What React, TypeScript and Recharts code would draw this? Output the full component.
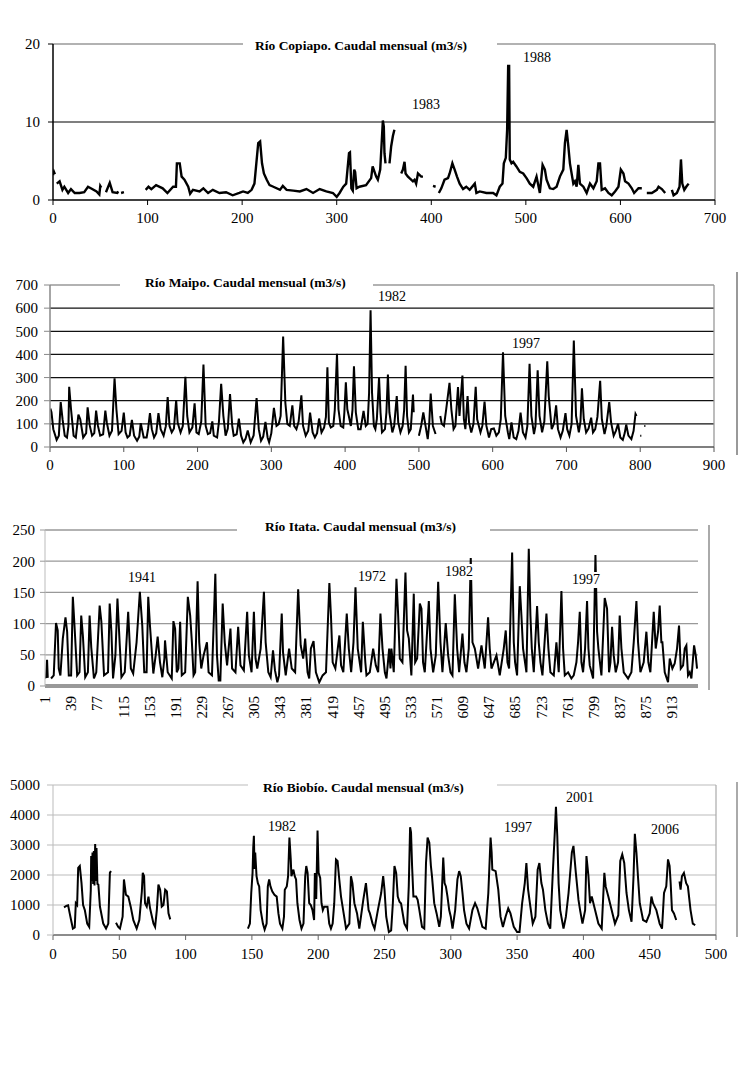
import React from 'react';
import { LineChart, Line, XAxis, YAxis, ReferenceLine } from 'recharts';

type Pt = [number, number | null];

const FONT = '"Liberation Serif", "Times New Roman", serif';

// ---------- Río Copiapó (m3/s) ----------
const copiapoXTicks = [0, 100, 200, 300, 400, 500, 600, 700];
const copiapoYTicks = [0, 10, 20];
const copiapoFlow: Pt[] = [
  [0, 3.2], [1, 3.6], [2, 3.3], [3, null],
  [4, 2.1], [7, 2.4], [10, 1.3], [12, 1.7], [16, 0.9], [19, 1.4], [23, 0.9], [28, 0.9], [33, 1.0], [37, 1.7], [40, 1.5], [46, 1.1], [49, 0.7], [50, 1.8], [51, 1.6], [53, null],
  [56, 1.0], [60, 2.2], [63, 1.0], [68, 0.9], [69, 1.1], [70.5, null], [72, 0.9], [75, 1.0], [80, null],
  [98, 1.3], [101, 1.7], [104, 1.4], [109, 1.9], [116, 1.5], [121, 0.9], [127, 1.7], [130, 1.7], [131, 4.7], [134, 4.7], [136, 3.0], [139, 2.6], [143, 1.7], [145, 0.8], [148, 1.3], [155, 1.1], [159, 1.5], [164, 0.9], [169, 1.3], [176, 0.9], [183, 1.0], [190, 0.6], [197, 0.9], [201, 1.1], [206, 0.9], [210, 1.3], [213, 2.1], [215, 4.7], [217, 7.3], [219, 7.5], [221, 4.7], [223, 3.4], [226, 2.6], [229, 1.9], [233, 1.7], [240, 1.3], [243, 1.8], [247, 1.3], [254, 1.2], [261, 1.1], [268, 1.4], [275, 0.9], [282, 1.4], [289, 1.1], [296, 0.9], [300, 0.4], [303, 0.9], [307, 1.7], [310, 2.1], [313, 6.0], [314, 6.1], [315.5, 1.5], [317, 1.2], [318.5, 3.9], [319.5, 3.6], [321, 1.5],
  [324, 1.7], [331, 1.9], [336.4, 2.8], [338, 4.3], [340, 3.6], [341.7, 3.0], [343.5, 2.6], [346, 3.9], [347.7, 7.7], [348.8, 10.2], [349.8, 9.4], [350.5, 6.0], [351.6, 4.7], [353, null],
  [355.8, 4.7], [357.6, 6.9], [359.4, 8.2], [361, 9.0], [364, null],
  [368.2, 3.4], [370, 3.9], [371.7, 4.9], [372.8, 3.4], [375.3, 3.0], [377, 2.8], [380.6, 2.4], [382.3, 2.6], [384, 2.1], [385.9, 3.4], [389.4, 3.0], [391.2, 3.0], [395, null],
  [401.8, 1.8], [404.6, 1.7], [406, null],
  [408, 0.9], [410.6, 1.5], [414, 2.6], [417.7, 2.8], [419.4, 3.4], [422.3, 4.7], [424.7, 3.9], [427.2, 3.0], [430, 2.1], [433.6, 1.4], [437, 1.7], [440.6, 1.3], [446, 2.1], [447.7, 0.9], [451.2, 1.1], [458.3, 0.9], [465.4, 0.9], [468.9, 0.6], [472.4, 1.7], [475.3, 2.1], [476.7, 4.7], [478.8, 5.4], [480.2, 9.0], [481.3, 17.2], [482.3, 17.2], [483, 5.2], [484.8, 4.7], [486.6, 4.9], [490, 4.3], [493.6, 3.6], [497.2, 3.4], [500.7, 2.8], [504.2, 2.1], [507.8, 1.7], [511.3, 3.0], [514.8, 0.9], [517.7, 4.5], [520.1, 3.9], [521.9, 2.6], [525.4, 1.5], [529, 1.4], [532.5, 1.7], [536, 3.0], [539.6, 3.9], [541.3, 7.3], [543.1, 9.0], [544.9, 6.9], [546.6, 4.7], [550.2, 2.1], [551.9, 2.4], [553.7, 1.7], [555.5, 4.5], [557.2, 2.1], [560.8, 1.7], [564.3, 0.9], [567.8, 2.1], [571.4, 1.5], [574.9, 2.4], [576.7, 4.7], [578.4, 4.7], [580.2, 1.3], [583.7, 1.5], [587.3, 0.9], [590.8, 0.6], [594.3, 1.1], [597.9, 1.7], [600.4, 3.9], [603.2, 3.4], [604.9, 2.4], [608.5, 2.1], [612, 1.5], [614.5, 0.9], [619.1, 1.5], [622.6, 1.5], [625, null],
  [627.9, 0.9], [633.2, 0.9], [638.5, 1.3], [640.3, 1.7], [643.8, 1.4], [647.3, 0.9], [650, null],
  [654.4, 1.3], [656.2, 0.6], [659.7, 0.9], [662.5, 1.7], [664, 5.2], [665.4, 2.1], [667.5, 1.3], [669.6, 1.7], [672.1, 2.1],
];

// ---------- Río Maipo (m3/s) ----------
const maipoXTicks = [0, 100, 200, 300, 400, 500, 600, 700, 800, 900];
const maipoYTicks = [0, 100, 200, 300, 400, 500, 600, 700];
const maipoFlow: Pt[] = [
  [0.5, 166], [2, 150], [4.5, 77], [9, 31], [12, 49], [14.5, 194], [17, 120], [20, 49], [23, 41], [25, 91], [26, 260], [28.5, 163], [32, 49], [35, 41], [38.5, 140], [41, 120], [45, 41], [49, 60], [51, 171], [54, 91], [57, 49], [60, 60], [62.5, 157], [65, 91], [68, 49], [72, 55], [75, 157], [77, 106], [80.6, 49], [84, 70], [87.5, 297], [90, 163], [93, 56], [97, 70], [100, 149], [102.5, 63], [105, 41], [108, 50], [111, 117], [114, 49], [118, 27], [121, 45], [123, 103], [127, 41], [131, 41], [133, 80], [135.5, 146], [138, 77], [141, 41], [144, 60], [147, 146], [150, 77], [154, 49], [157, 90], [159.5, 216], [162, 91], [165, 63], [168, 80], [171, 203], [173, 106], [177, 63], [180, 90], [183.5, 303], [186, 134], [189, 63], [193, 85], [196, 189], [198.5, 63], [201.6, 56], [205, 110], [208, 356], [211, 91], [214, 56], [217, 60], [220, 111], [222, 49], [226.5, 41], [229, 110], [232, 273], [235, 134], [238, 49], [241, 80], [244, 229], [247, 91], [249, 49], [253, 55], [256, 123], [259, 49], [262, 20], [265, 35], [268, 71], [272, 20], [276, 50], [280, 211], [283, 77], [286, 27], [289, 45], [292, 109], [295, 40], [297, 20], [300, 60], [303.5, 169], [307, 91], [310, 99], [312.6, 134], [316, 477], [319, 191], [321.7, 99], [325, 91], [328.5, 180], [331, 91], [334, 77], [337, 110], [340.7, 223], [343, 91], [346.6, 49], [350, 70], [352.5, 149], [356, 63], [359, 41], [362, 60], [364.7, 123], [368, 63], [371.5, 84], [374, 130], [376, 344], [378, 106], [380.6, 84], [384, 91], [386, 160], [389, 403], [391, 163], [394, 91], [397.5, 84], [399, 150], [401, 280], [403, 163], [405, 134], [407.8, 91], [410, 160], [412, 349], [414.5, 150], [417.8, 77], [421, 77], [425, 156], [428, 91], [430.5, 100], [432.5, 234], [434.5, 591], [436.5, 234], [439, 91], [441, 77], [443, 120], [446, 299], [448, 149], [450, 63], [454, 77], [456, 150], [458, 313], [460, 149], [464, 63], [466.5, 91], [470, 220], [472, 106], [475, 63], [478, 91], [480, 160], [482, 351], [484, 134], [486.5, 63], [489, 77], [492, 227], [493, 150], [495, null],
  [500, 49], [503, 91], [506, 149], [509, 91], [512, 34], [514, 100], [516, 231], [519, 91], [522.6, 56], [525, null],
  [529, 134], [531, 100], [534, 91], [537, 163], [541.5, 277], [544, 163], [547, 77], [549.5, 91], [553, 259], [555, 134], [559, 309], [561, 120], [563, 77], [566, 220], [568, 106], [571, 63], [574, 100], [577, 260], [579, 120], [583.5, 63], [586, 91], [589, 196], [591.5, 91], [595, 41], [598, 77], [601.6, 80], [605, 49], [608.4, 63], [611, 120], [614, 409], [617, 134], [620.6, 63], [622.5, 34], [625.5, 106], [628.5, 41], [632, 34], [635, 70], [637.8, 149], [641, 63], [644.5, 41], [647, 90], [650, 360], [652.5, 134], [656, 56], [658, 90], [661, 331], [663.5, 134], [667, 63], [670, 110], [674, 370], [676, 220], [680, 77], [683, 100], [686, 180], [688.5, 77], [692, 41], [695, 70], [698.7, 146], [701, 77], [704, 49], [707, 100], [710, 460], [713, 134], [716.8, 63], [719, 110], [721, 254], [723.5, 120], [726.7, 63], [730, 80], [733.5, 127], [736, 63], [739, 77], [742, 130], [745.7, 286], [748, 120], [751.6, 56], [754, 90], [758, 194], [760.5, 106], [764, 49], [767, 70], [770, 100], [773, 41], [776.4, 31], [779, 60], [781, 97], [784, 49], [788, 34], [791, 70], [793.6, 143], [795, 134], [797, null],
  [800, 49], [801.5, 49], [803, null], [805.5, 91], [807, 91],
];

// ---------- Río Itata (m3/s) ----------
const itataXTicks = [1, 39, 77, 115, 153, 191, 229, 267, 305, 343, 381, 419, 457, 495, 533, 571, 609, 647, 685, 723, 761, 799, 837, 875, 913];
const itataYTicks = [0, 50, 100, 150, 200, 250];
const itataFlow: Pt[] = [
  [1, 13], [2.5, 14], [4, 42], [5, 13], [7, null],
  [9.8, 12], [13.7, 17], [17, 101], [19.5, 89], [21, 28], [23.4, 17], [26.9, 76], [30.8, 110], [33.2, 87], [35.6, 17], [39, 17], [41.5, 143], [43.9, 97], [47.8, 17], [51.2, 22], [53.7, 113], [56.1, 81], [59.5, 14], [63.4, 22], [65.9, 113], [68.3, 62], [72.2, 12], [75.6, 22], [80.5, 129], [83, 103], [86.9, 17], [92.7, 22], [95.1, 132], [97.6, 87], [100, 12], [103.4, 49], [106.4, 140], [109.8, 65], [112.2, 14], [117, 22], [119.5, 70], [122, 119], [125.9, 28], [129.3, 20], [134.2, 70], [139, 151], [142.5, 97], [145.4, 22], [148.8, 22], [151.2, 143], [153.7, 97], [158.6, 20], [162, 49], [164.9, 79], [168.3, 38], [171.7, 14], [174.7, 44], [175.6, 73], [179.5, 22], [185.4, 12], [187.8, 104], [190.3, 92], [192.7, 22], [195.1, 28], [197.6, 103], [200, 17], [204.9, 22], [208.8, 143], [212.2, 113], [214.7, 70], [217.1, 17], [219.5, 22], [223, 168], [225.4, 70], [228.3, 28], [231.7, 49], [236.6, 70], [239, 22], [243.9, 17], [248.8, 180], [251.2, 49], [253.7, 9], [256.1, 9], [259.5, 132], [262.5, 70], [265.9, 33], [270.8, 92], [273.2, 28], [278.1, 22], [282, 95], [285.4, 33], [290.3, 25], [295.1, 119], [297.6, 49], [301.5, 22], [304.9, 119], [307.3, 44], [309.8, 28], [314.7, 60], [319.5, 151], [322, 70], [325.9, 22], [329.3, 14], [332.7, 57], [335.6, 25], [339, 6], [341.5, 17], [345.4, 116], [347.3, 54], [351.2, 17], [356.1, 60], [360, 28], [364.9, 22], [369.3, 155], [373, 65], [376.6, 44], [379.5, 76], [383, 22], [385.4, 12], [387.8, 60], [391.7, 72], [395.1, 22], [400, 6], [404.9, 17], [409.8, 22], [414.7, 165], [417, 113], [419.5, 38], [423.4, 28], [426.9, 60], [429.3, 81], [431.7, 33], [435, 22], [440, 116], [443, 60], [446.4, 22], [449.8, 70], [452.7, 158], [456, 60], [460.9, 22], [463.4, 103], [467, 38],
  [468.7, 17], [473.5, 22], [478.4, 60], [482.3, 33], [485.7, 22], [489, 116], [492, 60], [495.4, 22], [497.8, 12], [501.7, 60], [503.6, 28], [505, 60], [508.4, 22], [512.3, 172], [514.8, 113], [517.2, 44], [521, 38], [525.4, 182], [527.8, 89], [530.3, 76], [534, 17], [537.5, 148], [539.5, 38], [542.4, 44], [546.3, 132], [548.7, 124], [551, 38], [553.5, 22], [559.4, 136], [561.8, 60], [565.7, 22], [569.5, 49], [573, 167], [576.3, 70], [579.2, 22], [584, 101], [587.5, 49], [590.9, 22], [593.8, 17], [597.2, 147], [600.6, 60], [603.5, 22], [608.3, 84], [611.2, 38], [614.1, 22], [617.5, 60], [620.4, 205], [622.9, 70], [626.3, 60], [631.1, 28], [636, 65], [640.8, 28], [645.6, 110], [648, 60], [650.5, 28], [657.8, 49], [662.6, 17], [668.4, 60], [671.3, 89], [673.8, 38], [676.2, 28], [680.6, 214], [683, 70], [684.9, 38], [687.8, 17], [691.7, 160], [694.1, 113], [696.5, 60], [701.4, 22], [704.8, 220], [707.2, 113], [709.2, 60], [712.1, 22], [716.9, 128], [719.3, 70], [721.8, 38], [724.7, 17], [730.5, 116], [733.4, 60], [736.3, 22], [741.2, 17], [745, 70], [748.4, 22], [752.3, 152], [754.7, 60], [757.2, 17], [762, 22], [766.8, 12], [770.2, 17], [774.1, 38], [776.5, 70], [779, 119], [781.4, 38], [783.8, 22], [786.7, 60], [789.6, 136], [791.6, 60], [793.5, 33], [798.4, 12], [801.8, 210], [804.2, 87], [806.1, 60], [810.5, 17], [815.3, 141], [818.7, 124], [821.6, 22], [823.6, 38], [826, 95], [828.4, 49], [831.3, 22], [834.7, 38], [837.1, 113], [839.6, 60], [843, 22], [849.3, 12], [854.1, 22], [857.5, 70], [861.4, 136], [863.8, 70], [867.2, 22], [872, 38], [875.9, 87], [878.8, 38], [881.7, 22], [886.6, 119], [889.5, 60], [892.9, 87], [895.3, 129], [897.7, 70], [899.2, 70], [902.6, 22], [907.4, 6], [909.9, 44], [913.7, 28], [917.1, 36], [920.5, 60], [923.4, 97], [925.9, 28], [929.3, 33], [931.7, 60], [934.1, 65], [936.5, 17], [939, 22], [941.4, 12], [945.3, 65], [947.7, 49], [949.6, 28],
];

// ---------- Río Biobío (m3/s) ----------
const biobioXTicks = [0, 50, 100, 150, 200, 250, 300, 350, 400, 450, 500];
const biobioYTicks = [0, 1000, 2000, 3000, 4000, 5000];
const biobioFlow: Pt[] = [
  [8.3, 923], [10, 970], [11.4, 990], [12.6, 720], [13.9, 440], [15, 214], [16.4, 250], [17.2, 1060], [18.2, 1000], [19, 2240], [20.2, 2300], [21.5, 1730], [22.7, 1000], [24, 830], [25.8, 380], [27.3, 270], [28.5, 1500], [28.8, 2630], [29.3, 1800], [29.8, 2750], [30.3, 1700], [30.8, 2800], [31.3, 1650], [31.8, 3030], [32.3, 1800], [32.8, 2900], [33.5, 1700], [34.2, 1680], [35.4, 950], [37.9, 380], [40, 214], [41.7, 380], [42.9, 2070], [43.7, 2130], [45, null],
  [47.5, 405], [49.2, 270], [50.5, 214], [52.5, 610], [53.5, 1850], [55, 1340], [56.8, 1280], [58.6, 945], [60.6, 495], [63.1, 214], [65.1, 500], [67, 1450], [67.7, 2070], [68.7, 1960], [69.4, 1060], [70.7, 945], [72, 1280], [73.2, 890], [75.8, 380], [77, 270], [78.3, 830], [79.5, 1680], [80.8, 1510], [82, 945], [83.3, 1000], [84.6, 1510], [85.9, 1450], [87.1, 720], [88.4, 520], [90, null],
  [147, 214], [148.5, 380], [149.5, 1400], [150.5, 2070], [151, 2900], [151.5, 3310], [152, 2200], [152.5, 2750], [153.5, 1960], [154.5, 1730], [155.5, 1620], [156.6, 830], [158.3, 380], [159.6, 180], [161.1, 380], [162, 1620], [163, 1850], [164, 1620], [165.4, 1450], [167, 1340], [168.7, 1280], [170, 720], [171.2, 380], [173, 214], [174.2, 610], [174.8, 1510], [176.3, 1620], [177.3, 1960], [178.3, 3250], [179.3, 2520], [179.8, 1960], [181.3, 2180], [182.3, 1960], [183.3, 1850], [184.3, 1060], [185.9, 500], [187.4, 214], [188.9, 380], [190.2, 1960], [191, 2300], [192, 2070], [193.2, 1060], [194.4, 1000], [195.7, 830], [196.9, 500], [197.5, 2070], [198.5, 1200], [199.5, 3480], [200.3, 2070], [201.5, 1900], [202.5, 1060], [203.5, 830], [204.5, 945], [207, 945], [208.3, 380], [209.6, 214], [210.9, 380], [212.1, 1060], [213.4, 2520], [214.6, 2470], [215.9, 1850], [217.2, 1280], [219.2, 720], [221, 214], [223.5, 380], [224.7, 1960], [225.8, 1730], [227.3, 1060], [229.3, 720], [231, 214], [234, 1170], [236, 1730], [238, 830], [239, 720], [241, 380], [242.5, 214], [245, 830], [247.5, 1400], [249, 1960], [250, 1510], [251.3, 610], [253.3, 100], [255, 150], [256.3, 1060], [257.5, 2300], [258.8, 2070], [260, 1280], [261.3, 1110], [262.5, 1050], [265, 380], [267, 214], [268.3, 1620], [269.3, 3590], [270, 3420], [270.8, 2300], [271.8, 1280], [273.8, 1280], [275, 1170], [276.3, 830], [278.3, 270], [280, 214], [281.3, 2400], [282.5, 3250], [283.8, 3080], [285, 2300], [285.8, 1960], [287.5, 1060], [289.3, 720], [291.3, 270], [292.5, 610], [294.3, 2580], [295.3, 1730], [296.3, 1620], [297.5, 1280], [298.8, 830], [300, 610], [301.3, 214], [303.3, 830], [305, 1850], [306.3, 2130], [307.5, 1960], [308.8, 1400], [310, 830], [311.8, 380], [313.8, 214], [316.3, 830], [318.3, 1060], [320, 890], [321.8, 610], [323.8, 270], [326.3, 214], [328.3, 1400], [330, 3250], [330.8, 2750], [331.3, 2180], [333.8, 2130], [335.8, 1510], [337.5, 610], [339.3, 270], [341.3, 610], [343.3, 890], [345, 720], [347.5, 270], [350, 100], [351.8, 100], [353.8, 1060], [355.8, 1730], [357, 2400], [358.3, 1510], [360, 945], [361.8, 380], [363.8, 610], [365.5, 2180], [366.8, 2400], [368.3, 1730], [369.5, 1510], [371.3, 830], [373.3, 380], [375, 214], [376.8, 1960], [378.3, 3310], [379.3, 4270], [380.3, 3310], [381.3, 1730], [382.5, 830], [385, 214], [386.8, 610], [388.8, 1400], [391.3, 2750], [392.5, 2970], [394.3, 2070], [396.3, 1170], [397.5, 830], [399.3, 380], [401.3, 830], [402.3, 2630], [403.8, 1960], [405, 1060], [406.3, 1280], [408.8, 830], [411.3, 380], [413.8, 214], [415.8, 2070], [416.8, 1620], [418.8, 1280], [421.3, 830], [423.8, 380], [426.3, 660], [427.8, 2470], [429.3, 2690], [430.8, 2400], [432.5, 1400], [434.3, 830], [436.3, 440], [437.8, 1960], [438.8, 3370], [440, 2750], [441.3, 1850], [442.5, 1060], [445, 500], [447.5, 440], [450, 720], [451.3, 1280], [452.5, 1060], [455, 830], [457.5, 380], [459.3, 214], [460.8, 1400], [462.5, 1620], [463.8, 2520], [465, 2300], [465.8, 1730], [466.8, 830], [468.3, 720], [470, 500], [471, null],
  [472.5, 1790], [473.3, 1510], [474.3, 1960], [475.8, 2070], [477.5, 1730], [478.8, 1620], [480.8, 830], [482.5, 380], [484.3, 330],
];

const titles = [
  { text: 'Río Copiapo. Caudal mensual (m3/s)', boxL: 243, boxR: 497, textL: 255, cy: 46 },
  { text: 'Río Maipo. Caudal mensual (m3/s)', boxL: 120, boxR: 373, textL: 145, cy: 283 },
  { text: 'Río Itata. Caudal mensual (m3/s)', boxL: 237, boxR: 490, textL: 265, cy: 527 },
  { text: 'Río Biobío. Caudal mensual (m3/s)', boxL: 248, boxR: 497, textL: 263, cy: 788 },
];

const yearLabels = [
  { text: '1983', x: 412, cy: 105 },
  { text: '1988', x: 523, cy: 58 },
  { text: '1982', x: 378, cy: 297 },
  { text: '1997', x: 512, cy: 344 },
  { text: '1941', x: 128, cy: 578 },
  { text: '1972', x: 358, cy: 577 },
  { text: '1982', x: 445, cy: 572 },
  { text: '1997', x: 572, cy: 580 },
  { text: '1982', x: 268, cy: 827 },
  { text: '1997', x: 504, cy: 828 },
  { text: '2001', x: 566, cy: 798 },
  { text: '2006', x: 651, cy: 830 },
];

const rows = (pts: Pt[]) => pts.map(([t, v]) => ({ t, v }));

const tickStyle = { fill: '#000', fontSize: 15, fontFamily: FONT };

const RotTick = (p: any) => {
  const { x, y, payload } = p;
  return (
    <text x={x} y={y} transform={`rotate(-90 ${x} ${y})`} textAnchor="end" dy="0.35em" fontSize={15} fontFamily={FONT} fill="#000">
      {payload.value}
    </text>
  );
};

const abs = (top: number): React.CSSProperties => ({ position: 'absolute', left: 0, top, fontFamily: FONT });

export default function App() {
  return (
    <div style={{ position: 'absolute', left: 0, top: 0, width: 738, height: 1086, background: '#fff', overflow: 'hidden', fontFamily: FONT }}>
      {/* Copiapó */}
      <div style={abs(0)}>
        <LineChart width={738} height={235} data={rows(copiapoFlow)} margin={{ top: 44, right: 23, bottom: 0, left: 0 }} style={{ fontFamily: FONT }}>
          <XAxis dataKey="t" type="number" domain={[0, 700]} ticks={copiapoXTicks} interval={0} height={35} allowDataOverflow
            axisLine={{ stroke: '#000', strokeWidth: 1.5 }} tickLine={{ stroke: '#000' }} tickSize={5} tickMargin={7} tick={tickStyle} />
          <YAxis type="number" domain={[0, 20]} ticks={copiapoYTicks} interval={0} width={53} allowDataOverflow
            axisLine={{ stroke: '#000', strokeWidth: 1.5 }} tickLine={{ stroke: '#000' }} tickSize={5} tickMargin={8} tick={tickStyle} />
          <ReferenceLine y={10} stroke="#555" strokeWidth={1.5} />
          <ReferenceLine y={20} stroke="#999" strokeWidth={1.5} />
          <ReferenceLine x={700} stroke="#999" strokeWidth={1.5} />
          <Line dataKey="v" stroke="#000" strokeWidth={2.4} dot={false} isAnimationActive={false} connectNulls={false} />
        </LineChart>
      </div>

      {/* Maipo */}
      <div style={abs(260)}>
        <LineChart width={738} height={225} data={rows(maipoFlow)} margin={{ top: 25, right: 24, bottom: 0, left: 0 }} style={{ fontFamily: FONT }}>
          <XAxis dataKey="t" type="number" domain={[0, 900]} ticks={maipoXTicks} interval={0} height={38} allowDataOverflow
            axisLine={{ stroke: '#555', strokeWidth: 1.5 }} tickLine={{ stroke: '#555' }} tickSize={5} tickMargin={7} tick={tickStyle} />
          <YAxis type="number" domain={[0, 700]} ticks={maipoYTicks} interval={0} width={50} allowDataOverflow
            axisLine={{ stroke: '#888', strokeWidth: 1.5 }} tickLine={{ stroke: '#888' }} tickSize={6} tickMargin={6} tick={tickStyle} />
          {maipoYTicks.filter((v) => v > 0 && v < 700).map((v) => (
            <ReferenceLine key={v} y={v} stroke="#111" strokeWidth={1.3} />
          ))}
          <ReferenceLine y={700} stroke="#999" strokeWidth={1.3} />
          <ReferenceLine x={900} stroke="#999" strokeWidth={1.3} />
          <Line dataKey="v" stroke="#000" strokeWidth={2} dot={false} isAnimationActive={false} connectNulls={false} />
        </LineChart>
      </div>

      {/* Itata */}
      <div style={abs(505)}>
        <LineChart width={738} height={225} data={rows(itataFlow)} margin={{ top: 25, right: 40, bottom: 0, left: 0 }} style={{ fontFamily: FONT }}>
          <XAxis dataKey="t" type="number" domain={[1, 951]} ticks={itataXTicks} interval={0} height={44} allowDataOverflow
            axisLine={{ stroke: '#999', strokeWidth: 4 }} tickLine={false} tickSize={0} tickMargin={10} tick={<RotTick />} />
          <YAxis type="number" domain={[0, 250]} ticks={itataYTicks} interval={0} width={45} allowDataOverflow
            axisLine={{ stroke: '#bbb', strokeWidth: 1 }} tickLine={{ stroke: '#999' }} tickSize={5} tickMargin={5} tick={tickStyle} />
          {itataYTicks.filter((v) => v > 0).map((v) => (
            <ReferenceLine key={v} y={v} stroke="#999" strokeWidth={1.3} />
          ))}
          <Line dataKey="v" stroke="#000" strokeWidth={2} dot={false} isAnimationActive={false} connectNulls={false} />
        </LineChart>
      </div>

      {/* Biobío */}
      <div style={abs(760)}>
        <LineChart width={738} height={215} data={rows(biobioFlow)} margin={{ top: 25, right: 22, bottom: 0, left: 0 }} style={{ fontFamily: FONT }}>
          <XAxis dataKey="t" type="number" domain={[0, 500]} ticks={biobioXTicks} interval={0} height={40} allowDataOverflow
            axisLine={{ stroke: '#666', strokeWidth: 1.5 }} tickLine={{ stroke: '#666' }} tickSize={5} tickMargin={8} tick={tickStyle} />
          <YAxis type="number" domain={[0, 5000]} ticks={biobioYTicks} interval={0} width={53} allowDataOverflow
            axisLine={{ stroke: '#bbb', strokeWidth: 1 }} tickLine={{ stroke: '#bbb' }} tickSize={6} tickMargin={7} tick={tickStyle} />
          {biobioYTicks.filter((v) => v > 0).map((v) => (
            <ReferenceLine key={v} y={v} stroke="#bbb" strokeWidth={1.2} />
          ))}
          <ReferenceLine x={500} stroke="#aaa" strokeWidth={1.2} />
          <Line dataKey="v" stroke="#000" strokeWidth={2} dot={false} isAnimationActive={false} connectNulls={false} />
        </LineChart>
      </div>

      {/* outer frame fragments */}
      <div style={{ position: 'absolute', left: 736, top: 272, width: 1.5, height: 183, background: '#999' }} />
      <div style={{ position: 'absolute', left: 708, top: 525, width: 1.5, height: 165, background: '#aaa' }} />
      <div style={{ position: 'absolute', left: 736, top: 782, width: 1.5, height: 155, background: '#aaa' }} />

      {titles.map((t, i) => (
        <React.Fragment key={'t' + i}>
          <div style={{ position: 'absolute', left: t.boxL, top: t.cy - 6, width: t.boxR - t.boxL, height: 12, background: '#fff' }} />
          <div style={{ position: 'absolute', left: t.textL, top: t.cy - 8, lineHeight: '16px', fontSize: 13.5, fontWeight: 'bold', fontFamily: FONT, whiteSpace: 'nowrap', color: '#000' }}>
            {t.text}
          </div>
        </React.Fragment>
      ))}

      {yearLabels.map((l, i) => (
        <div key={'y' + i} style={{ position: 'absolute', left: l.x, top: l.cy - 8, lineHeight: '16px', fontSize: 14, fontFamily: FONT, whiteSpace: 'nowrap', color: '#000', background: '#fff' }}>
          {l.text}
        </div>
      ))}
    </div>
  );
}
